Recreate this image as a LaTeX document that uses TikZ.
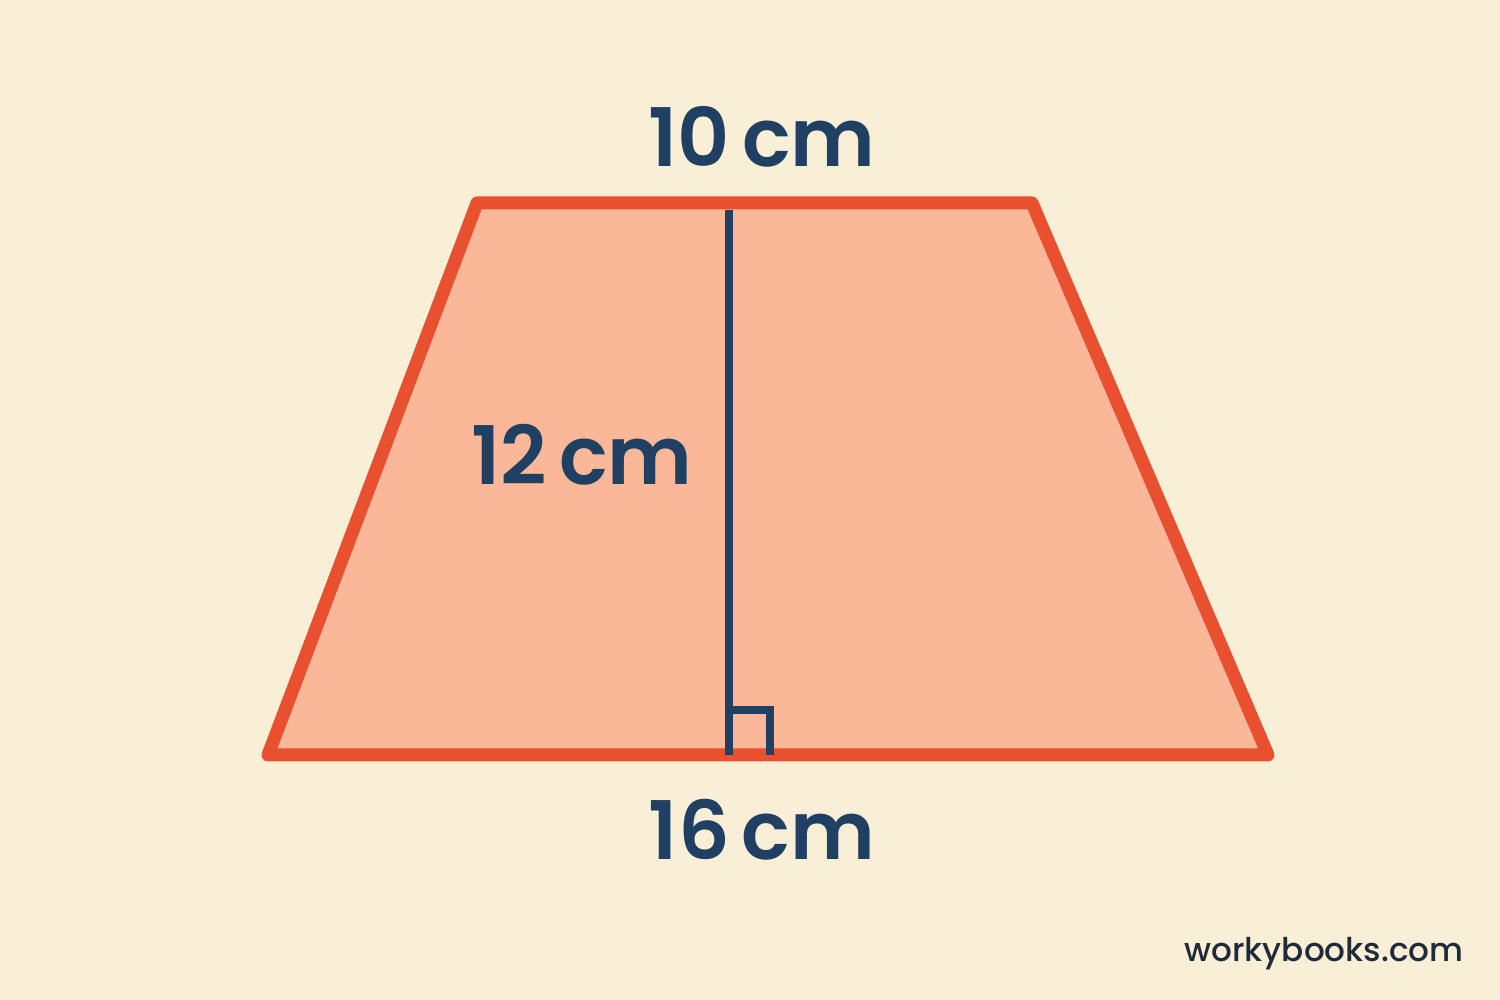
\documentclass[tikz,border=0pt]{standalone}
\usepackage{fontspec}
\setmainfont{Poppins}
\newfontfamily\labelfont{Poppins SemiBold}
\newfontfamily\markfont{Poppins Medium}
\definecolor{paper}{HTML}{F8EFD6}
\definecolor{trapfill}{HTML}{FBB899}
\definecolor{trapedge}{HTML}{E8502F}
\definecolor{labelblue}{HTML}{1F3F63}
\definecolor{markink}{HTML}{1F2A3A}
\tikzset{
  side label/.style={text=labelblue, font=\labelfont\fontsize{23}{28}\selectfont, inner sep=0pt},
  height line/.style={draw=labelblue, line width=2.3pt}
}
\begin{document}
\begin{tikzpicture}
\useasboundingbox (0,0) rectangle (15,10);
\fill[paper] (0,0) rectangle (15,10);
%corners of trapezoid

\coordinate (A) at (2.68,2.45); %bottom left
\coordinate (B) at (12.68,2.45); %bottom right
\coordinate (C) at (10.32,7.97); %top right
\coordinate (D) at (4.77,7.97); %top left

%ends of height

\coordinate (P) at (7.29,2.45); %foot on base
\coordinate (Q) at (7.29,7.90); %on top side
\coordinate (R) at (7.29,2.90); %corner of right angle mark

%draw trapezoid
\filldraw[fill=trapfill, draw=trapedge, line width=3.7pt, line join=round] (A) -- (B) -- (C) -- (D) -- cycle;

%draw height and right angle
\draw[height line] (P) -- (Q);
\draw[height line] (R) -- ++(0.41,0) -- ++(0,-0.45);

%labels
\node[side label] (top) at (7.62,8.63) {10\hspace{0.15em}cm};
\node[side label] (height) at (5.82,5.45) {12\hspace{0.15em}cm};
\node[side label] (base) at (7.62,1.70) {16\hspace{0.15em}cm};
\node[text=markink, font=\markfont\fontsize{9.3}{11}\selectfont, anchor=base, inner sep=0pt] (mark) at (13.24,0.38) {workybooks.com};
\end{tikzpicture}
\end{document}
